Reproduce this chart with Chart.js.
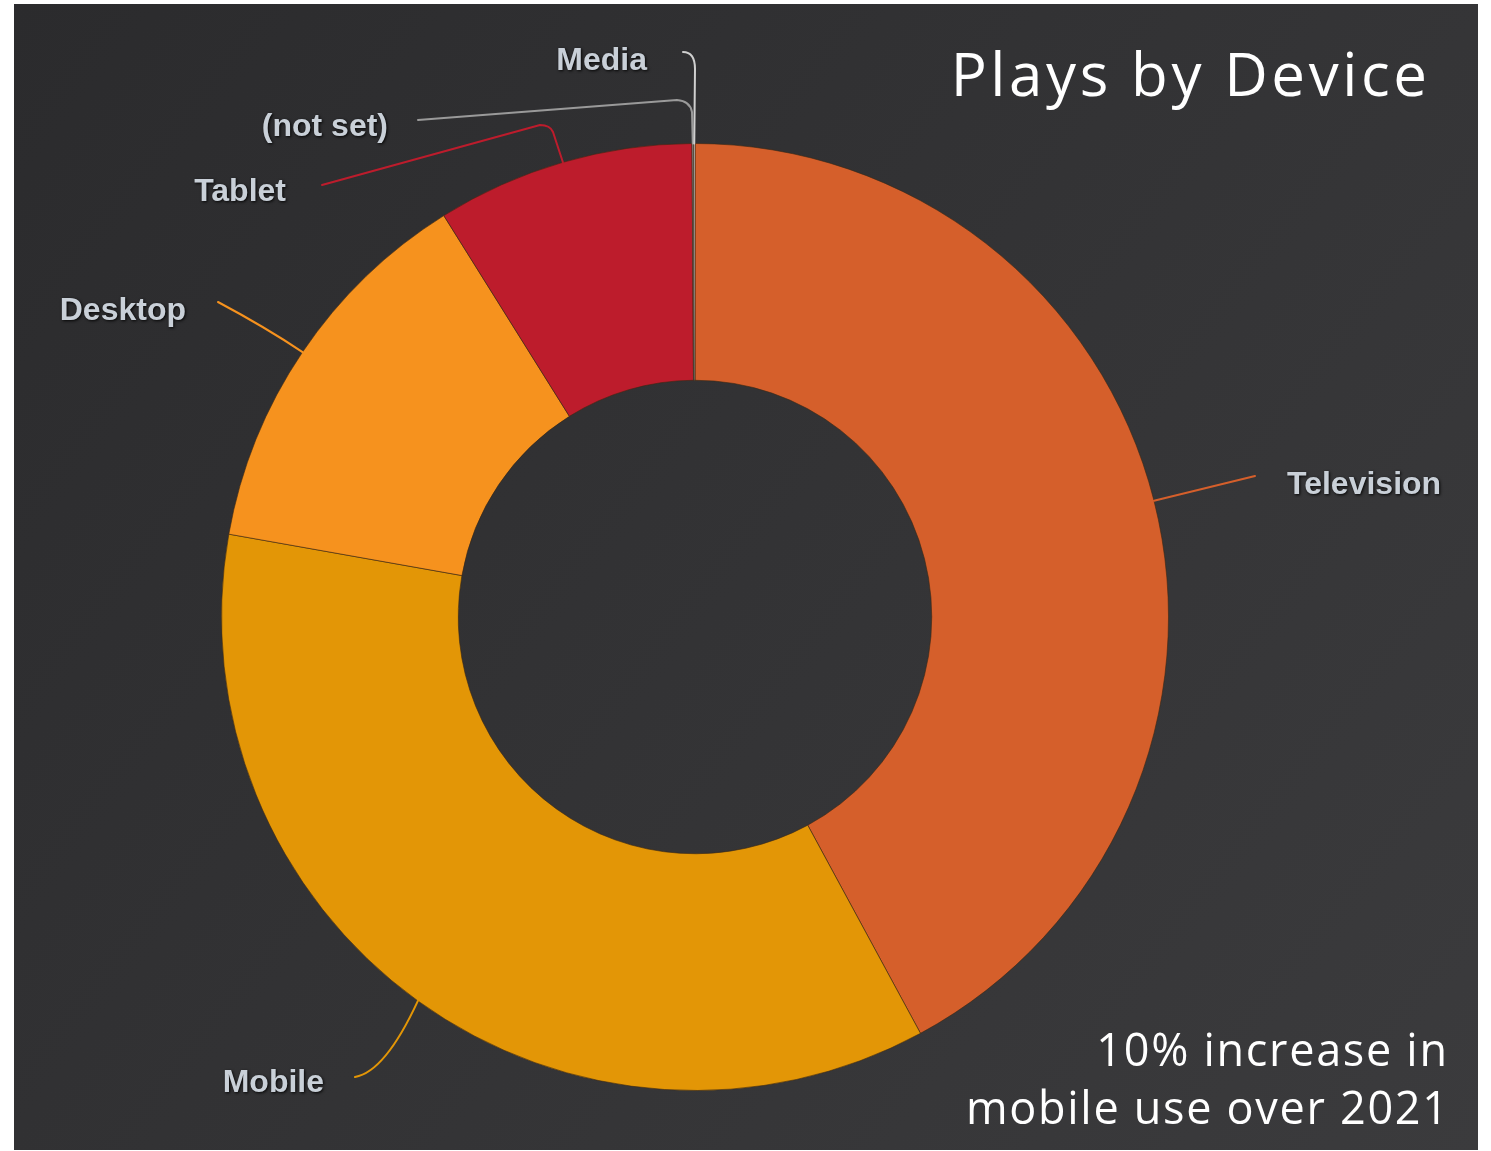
<!DOCTYPE html>
<html>
<head>
<meta charset="utf-8">
<script src="https://cdn.jsdelivr.net/npm/chart.js@4.4.0/dist/chart.umd.min.js"></script>
<style>
  html, body { margin: 0; padding: 0; background: #ffffff; }
  canvas { display: block; }
</style>
</head>
<body>
<canvas id="c" width="1491" height="1151"></canvas>
<script>
// ---- data ----
const categories = ['Television', 'Mobile', 'Desktop', 'Tablet', '(not set)', 'Media'];
const shares = [42.1, 35.7, 13.3, 8.8, 0.05, 0.05];
const sliceColors = ['#D55F2B', '#E39606', '#F6921E', '#BD1C2C', '#9a9a9a', '#cfcfcf'];
const titleText = 'Plays by Device';
const noteLines = ['10% increase in', 'mobile use over 2021'];

// ---- label / connector styling (offsets relative to the donut centre) ----
const labelStyle = {
  'Television': { text: [592, -132], align: 'left',  path: [['L', 560, -141]] },
  'Mobile':     { text: [-371, 466], align: 'right', path: [['Q', -310, 455, -340, 460]] },
  'Desktop':    { text: [-509, -306], align: 'right', path: [['Q', -430, -290, -477, -315]] },
  'Tablet':     { text: [-409, -425], align: 'right', path: [['L', -142, -485], ['Q', -145, -492, -155, -492], ['L', -373, -432]] },
  '(not set)':  { text: [-307, -490], align: 'right', path: [['L', -3, -505], ['Q', -5, -516, -18, -517], ['L', -277, -497]] },
  'Media':      { text: [-48, -556], align: 'right', path: [['L', 0, -548], ['Q', 0, -565, -12, -565]] }
};

const bgPlugin = {
  id: 'bg',
  beforeDraw(chart) {
    const ctx = chart.ctx;
    ctx.save();
    ctx.fillStyle = '#ffffff';
    ctx.fillRect(0, 0, chart.width, chart.height);
    const g = ctx.createLinearGradient(14, 4, 1478, 1150);
    g.addColorStop(0, '#2b2b2d');
    g.addColorStop(1, '#3b3b3d');
    ctx.fillStyle = g;
    ctx.fillRect(14, 4, 1464, 1146);
    ctx.restore();
  }
};

const labelPlugin = {
  id: 'leaderLabels',
  afterDatasetsDraw(chart) {
    const ctx = chart.ctx;
    const meta = chart.getDatasetMeta(0);
    ctx.save();
    meta.data.forEach((arc, i) => {
      const name = chart.data.labels[i];
      const cfg = labelStyle[name];
      if (!cfg) return;
      const p = arc.getProps(['x', 'y', 'startAngle', 'endAngle', 'outerRadius'], true);
      const cx = p.x, cy = p.y;
      const mid = (p.startAngle + p.endAngle) / 2;
      const sx = cx + Math.cos(mid) * p.outerRadius;
      const sy = cy + Math.sin(mid) * p.outerRadius;
      ctx.beginPath();
      ctx.moveTo(sx, sy);
      cfg.path.forEach(seg => {
        if (seg[0] === 'L') ctx.lineTo(cx + seg[1], cy + seg[2]);
        else ctx.quadraticCurveTo(cx + seg[1], cy + seg[2], cx + seg[3], cy + seg[4]);
      });
      ctx.strokeStyle = chart.data.datasets[0].backgroundColor[i];
      ctx.lineWidth = 2;
      ctx.lineJoin = 'round';
      ctx.lineCap = 'round';
      ctx.stroke();

      ctx.font = 'bold 32px "Liberation Sans", Arial, sans-serif';
      ctx.textAlign = cfg.align;
      ctx.textBaseline = 'middle';
      ctx.shadowColor = 'rgba(0,0,0,0.9)';
      ctx.shadowBlur = 3;
      ctx.shadowOffsetX = 1;
      ctx.shadowOffsetY = 1;
      ctx.fillStyle = '#c9d0d8';
      ctx.fillText(name, cx + cfg.text[0], cy + cfg.text[1]);
      ctx.shadowColor = 'transparent';
    });
    ctx.restore();
  },
  afterDraw(chart) {
    const ctx = chart.ctx;
    ctx.save();
    ctx.fillStyle = '#ffffff';
    ctx.textAlign = 'right';
    ctx.textBaseline = 'alphabetic';
    ctx.font = '60px "Open Sans", Lato, sans-serif';
    ctx.letterSpacing = '3.6px';
    ctx.fillText(titleText, 1427 + 3.6, 96);
    ctx.font = '45px "Open Sans", Lato, sans-serif';
    ctx.letterSpacing = '1.7px';
    ctx.fillText(noteLines[0], 1447 + 1.7, 1066);
    ctx.fillText(noteLines[1], 1448 + 1.7, 1124);
    ctx.restore();
  }
};

new Chart(document.getElementById('c'), {
  type: 'doughnut',
  data: {
    labels: categories,
    datasets: [{
      data: shares,
      backgroundColor: sliceColors,
      borderColor: 'rgba(60,40,20,0.6)',
      borderWidth: 1
    }]
  },
  options: {
    responsive: false,
    animation: false,
    cutout: '50%',
    layout: { padding: { top: 143, bottom: 60, left: 221, right: 322 } },
    plugins: {
      legend: { display: false },
      tooltip: { enabled: false },
      title: { display: false }
    }
  },
  plugins: [bgPlugin, labelPlugin]
});
</script>
</body>
</html>
